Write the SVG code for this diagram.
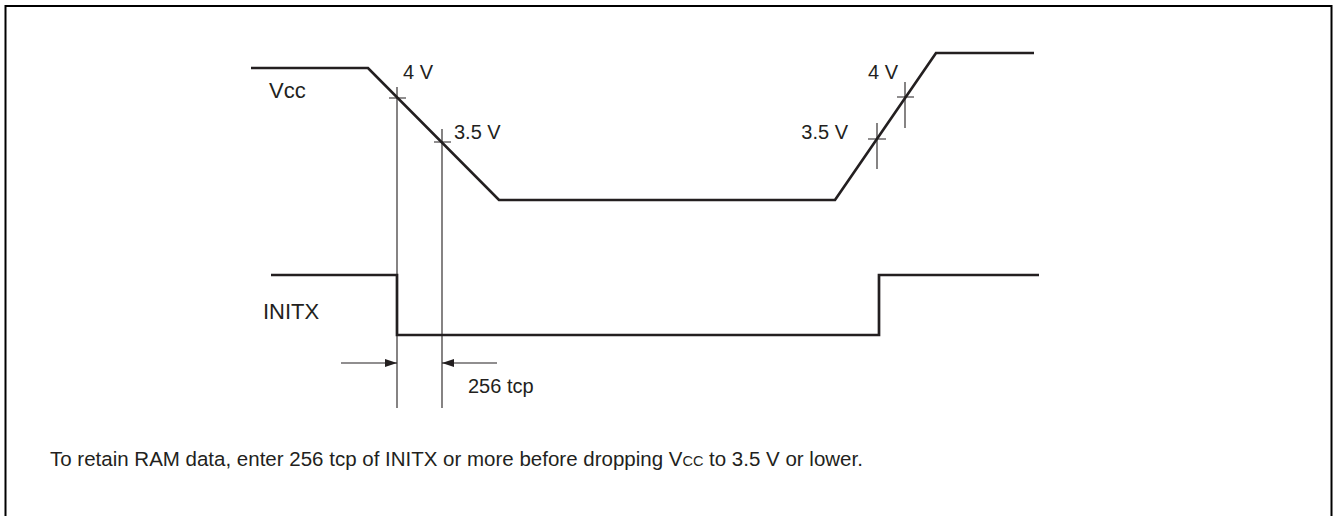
<svg xmlns="http://www.w3.org/2000/svg" width="1333" height="516" viewBox="0 0 1333 516">
<defs>
<style>
.sig{fill:none;stroke:#231f20;stroke-width:2.7;stroke-linejoin:miter}
.thin{fill:none;stroke:#231f20;stroke-width:1.1}
.lbl{font-family:"Liberation Sans",Arial,sans-serif;fill:#231f20}
.val{font-size:20px}
.name{font-size:22px}
</style>
<marker id="ah" viewBox="0 0 12 8" refX="12" refY="4" markerWidth="12" markerHeight="8" markerUnits="userSpaceOnUse" orient="auto">
<path d="M0,0 L12,4 L0,8 Z" fill="#231f20"/>
</marker>
</defs>
<rect x="5.5" y="6" width="1326" height="530" fill="#fff" stroke="#000" stroke-width="2"/>
<g id="vcc">
<path class="sig" d="M251,68 L368,68 L499,200 L835,200 L936,53 L1034,53"/>
<text class="lbl name" x="269" y="98">Vcc</text>
</g>
<g id="initx">
<path class="sig" d="M271,275 L397,275 L397,335 L879,335 L879,275 L1039,275"/>
<text class="lbl name" x="263" y="319">INITX</text>
</g>
<g id="connectors">
<path class="thin" d="M397,87 L397,408 M389,98 L406,98"/>
<path class="thin" d="M442,129 L442,408 M434,142 L451,142"/>
<path class="thin" d="M905,82 L905,128 M897,97 L914,97"/>
<path class="thin" d="M877,123 L877,169 M868,139 L886,139"/>
<path class="thin" d="M341,363 L397,363" marker-end="url(#ah)"/>
<path class="thin" d="M497,363 L442,363" marker-end="url(#ah)"/>
</g>
<g id="labels">
<text class="lbl val" x="403" y="79">4 V</text>
<text class="lbl val" x="454" y="139">3.5 V</text>
<text class="lbl val" x="868" y="79">4 V</text>
<text class="lbl val" x="848" y="139" text-anchor="end">3.5 V</text>
<text class="lbl val" x="468" y="393">256 tcp</text>
</g>
<g id="note">
<text class="lbl" font-size="20.5" x="50" y="466">To retain RAM data, enter 256 tcp of INITX or more before dropping V<tspan font-size="14.5">CC</tspan> to 3.5 V or lower.</text>
</g>
</svg>
